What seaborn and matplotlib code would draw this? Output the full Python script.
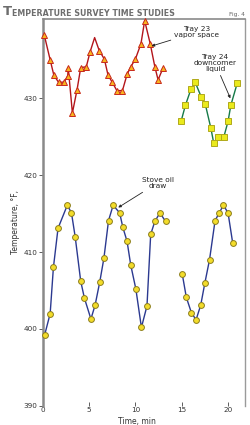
import numpy as np
import pandas as pd
import matplotlib.pyplot as plt
import seaborn as sns

sns.set_style('white')
plt.rcParams['font.family'] = ['Liberation Sans Narrow', 'DejaVu Sans']

# Tray 23 vapor space
t23_time = [0.15, 0.8, 1.2, 1.7, 2.3, 2.7, 2.75, 3.2, 3.7, 4.1, 4.7, 5.1, 5.6, 6.1, 6.65, 7.05, 7.5,
            8.0, 8.6, 9.1, 9.5, 10.0, 10.6, 11.0, 11.6, 12.1, 12.45, 13.0]
t23_temp = [438.3, 435.0, 433.0, 432.1, 432.1, 432.9, 434.0, 428.1, 431.1, 434.0, 434.1, 436.0, 437.9,
            436.2, 435.1, 433.0, 432.1, 431.0, 431.0, 433.1, 434.1, 435.1, 437.1, 440.1, 437.1, 434.1,
            432.4, 434.0]

# Tray 24 downcomer liquid
t24_time = [14.95, 15.4, 16.0, 16.45, 17.1, 17.55, 18.15, 18.45, 18.95, 19.55, 20.0, 20.3, 21.0]
t24_temp = [427.1, 429.1, 431.2, 432.1, 430.2, 429.2, 426.1, 424.2, 425.0, 425.0, 427.0, 429.1, 432.0]

# Stove oil draw (two runs, gap between 13 and 15 min)
so_time = [0.2, 0.8, 1.15, 1.65, 2.65, 3.1, 3.5, 4.1, 4.5, 5.2, 5.65, 6.15, 6.6, 7.1, 7.6, 8.3, 8.65,
           9.1, 9.5, 10.05, 10.65, 11.25, 11.65, 12.1, 12.65, 13.25,
           15.05, 15.5, 16.05, 16.55, 17.05, 17.5, 18.0, 18.6, 19.05, 19.5, 20.0, 20.5]
so_temp = [399.2, 402.0, 408.0, 413.1, 416.1, 415.1, 412.0, 406.2, 404.0, 401.3, 403.1, 406.1, 409.2,
           414.1, 416.1, 415.1, 413.2, 411.4, 408.3, 405.2, 400.2, 403.0, 412.3, 414.0, 415.1, 414.0,
           407.2, 404.1, 402.1, 401.2, 403.1, 406.0, 409.0, 414.1, 415.1, 416.1, 415.1, 411.2]
so_run = [1] * 26 + [2] * 12

df23 = pd.DataFrame({'time': t23_time, 'temp': t23_temp})
df24 = pd.DataFrame({'time': t24_time, 'temp': t24_temp})
dfso = pd.DataFrame({'time': so_time, 'temp': so_temp, 'run': so_run})

fig = plt.figure(figsize=(2.5, 4.25), dpi=100)
ax = fig.add_axes([0.171, 0.045, 0.809, 0.910])

peak = t23_temp.index(437.9)
sns.lineplot(data=df23, x='time', y='temp', sort=False, ax=ax, color='#b3151b', lw=1.0,
             marker='^', markersize=4.8, markerfacecolor='#f7b51e', markeredgecolor='#c8281c',
             markeredgewidth=0.7, markevery=[i for i in range(len(t23_time)) if i != peak],
             clip_on=False, zorder=3)
sns.lineplot(data=df24, x='time', y='temp', sort=False, ax=ax, color='#157a48', lw=1.0,
             marker='s', markersize=4.0, markerfacecolor='#eaea1c', markeredgecolor='#b0a91a',
             markeredgewidth=0.7, clip_on=False, zorder=3)
sns.lineplot(data=dfso, x='time', y='temp', units='run', estimator=None, sort=False, ax=ax,
             color='#2b3990', lw=1.0, marker='o', markersize=4.2, markerfacecolor='#f3dc2a',
             markeredgecolor='#8c7d1c', markeredgewidth=0.7, clip_on=False, zorder=3)

ax.set_xlim(0, 21.83)
ax.set_ylim(390, 440.3)
ax.set_xticks([0, 5, 10, 15, 20])
ax.set_yticks([390, 400, 410, 420, 430])
ax.tick_params(axis='x', direction='in', length=3, width=0.6, color='#444', pad=1,
               labelsize=5.2, labelcolor='#333', bottom=True)
ax.tick_params(axis='y', direction='out', length=3, width=0.6, color='#444', pad=1,
               labelsize=5.2, labelcolor='#333', left=True)

ax.spines['bottom'].set_visible(False)
ax.spines['left'].set_color('#8a8a8a')
ax.spines['left'].set_linewidth(1.8)
ax.spines['top'].set_color('#8a8a8a')
ax.spines['top'].set_linewidth(1.2)
ax.spines['right'].set_color('#9a9a9a')
ax.spines['right'].set_linewidth(1.0)

ax.set_xlabel('Time, min', fontsize=5.5, color='#333')
ax.set_ylabel('Temperature, °F,', fontsize=5.5, color='#333')
ax.xaxis.set_label_coords(0.466, -0.028)
ax.yaxis.set_label_coords(-0.112, 0.475)

ann = dict(fontsize=5.3, color='#222', ha='center', va='center', linespacing=1.05)
arr = dict(arrowstyle='-|>', color='#222', lw=0.6, mutation_scale=4, shrinkA=0, shrinkB=0)
ax.annotate('Tray 23\nvapor space', xy=(11.75, 436.8), xytext=(16.6, 438.6), arrowprops=arr, **ann)
ax.annotate('Tray 24\ndowncomer\nliquid', xy=(20.25, 430.0), xytext=(18.6, 434.6), arrowprops=arr, **ann)
ax.annotate('Stove oil\ndraw', xy=(8.15, 415.8), xytext=(12.4, 419.0), arrowprops=arr, **ann)

title_font = ['Liberation Sans Narrow', 'DejaVu Sans Condensed', 'DejaVu Sans']
fig.text(0.012, 0.989, 'T', fontsize=9.5, color='#6d6d6d', ha='left', va='top', family=title_font,
         fontweight='bold')
fig.text(0.049, 0.98, 'EMPERATURE SURVEY TIME STUDIES', fontsize=5.7, color='#6d6d6d', ha='left',
         va='top', family=title_font, fontweight='bold')
fig.text(0.98, 0.972, 'Fig. 4', fontsize=4.2, color='#666', ha='right', va='top')

fig.savefig('out.png', dpi=100)
